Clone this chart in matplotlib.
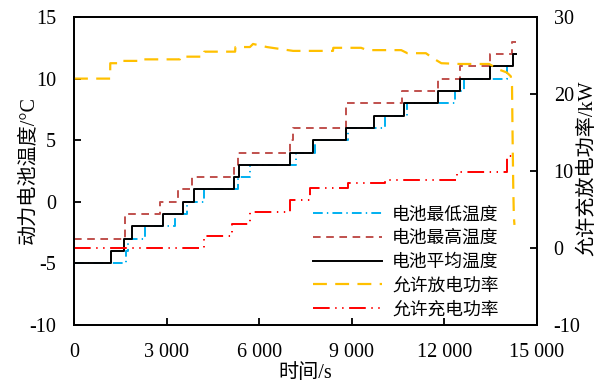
import matplotlib
matplotlib.use('Agg')
from matplotlib import pyplot as plt
from matplotlib.ticker import FuncFormatter, MultipleLocator

plt.rcParams['font.family'] = ['Liberation Serif', 'Noto Sans CJK SC']
plt.rcParams['axes.unicode_minus'] = False
plt.rcParams['lines.scale_dashes'] = False

# 电池温度 (°C)，阶跃变化
t_min = [0, 1700, 1760, 2300, 3270, 3650, 4200, 5300, 5700, 7200, 7800,
         8890, 10080, 10800, 12340, 12650, 14020, 14120]
temp_min = [-5, -4, -3, -2, -1, 0, 1, 2, 3, 4, 5, 6, 7, 8, 9, 10, 11, 11]

t_max = [0, 1640, 2790, 3380, 3820, 5180, 5300, 7000, 7100, 8800, 10620,
         11790, 12500, 13480, 14200, 14330]
temp_max = [-3, -1, 0, 1, 2, 3, 4, 5, 6, 8, 9, 10, 11, 12, 13, 13]

t_avg = [0, 1190, 1620, 1870, 2890, 3520, 3900, 5180, 5360, 7000, 7730,
         8800, 9720, 10700, 11790, 12520, 13480, 14210, 14320]
temp_avg = [-5, -4, -3, -2, -1, 0, 1, 2, 3, 4, 5, 6, 7, 8, 9, 10, 11, 12, 12]

# 允许放电功率 (kW)
t_dis = [0, 1170, 1175, 1550, 1560, 2140, 2150, 3430, 3440, 4210, 4220,
         5220, 5230, 5700, 5800, 6250, 7100, 8390, 8400, 9300, 9500, 10600,
         10800, 11400, 11650, 11900, 12500, 13450, 13750, 14020, 14150,
         14190, 14210, 14230, 14250, 14270]
p_dis = [22, 22, 24, 24, 24.3, 24.3, 24.5, 24.5, 24.85, 24.85, 25.5,
         25.5, 26.1, 26.1, 26.5, 26.1, 25.6, 25.6, 26.0, 26.0, 25.7, 25.7,
         25.3, 25.3, 24.6, 24.0, 23.9, 23.9, 23.2, 22.8, 22.3,
         21.0, 14, 8, 4, 3]

# 允许充电功率 (kW)
t_chg = [0, 4210, 5110, 5700, 7000, 7650, 8880, 10080, 12400, 14020, 14230]
p_chg = [0, 1.5, 3.1, 4.7, 6.3, 7.75, 8.4, 8.8, 9.9, 12, 12]

fig = plt.figure(figsize=(6.09, 3.84), dpi=100)
ax1 = fig.add_axes([0.1215, 0.1536, 0.7603, 0.8021])
ax2 = ax1.twinx()

l_min, = ax1.step(t_min, temp_min, where='post', color='#00B0F0', lw=1.4,
                  linestyle=(0, (7, 3, 1, 3)), label='电池最低温度')
l_max, = ax1.step(t_max, temp_max, where='post', color='#C0504D', lw=1.4,
                  linestyle=(0, (5.5, 4)), label='电池最高温度')
l_avg, = ax1.step(t_avg, temp_avg, where='post', color='black', lw=1.4,
                  label='电池平均温度')
l_dis, = ax2.plot(t_dis, p_dis, color='#FFC000', lw=1.6,
                  linestyle=(0, (10, 6)), label='允许放电功率')
l_chg, = ax2.step(t_chg, p_chg, where='post', color='#FF0000', lw=1.4,
                  linestyle=(0, (12, 4, 1, 4, 1, 4)), label='允许充电功率')

ax1.set_xlim(0, 15000)
ax1.set_ylim(-10, 15)
ax2.set_ylim(-10, 30)
ax1.xaxis.set_major_locator(MultipleLocator(3000))
ax1.yaxis.set_major_locator(MultipleLocator(5))
ax2.yaxis.set_major_locator(MultipleLocator(10))
ax1.xaxis.set_major_formatter(FuncFormatter(
    lambda v, p: f'{int(v):,}'.replace(',', ' ')))

for ax in (ax1, ax2):
    for sp in ax.spines.values():
        sp.set_linewidth(1.3)
ax1.tick_params(axis='both', direction='in', length=5, width=1.3,
                labelsize=14.5, pad=13)
ax1.tick_params(axis='x', pad=13)
ax2.tick_params(axis='y', direction='in', length=5, width=1.3,
                labelsize=14.5, pad=12)

ax1.set_xlabel('时间/s', fontsize=14.5)
ax1.set_ylabel('动力电池温度/°C', fontsize=14.5)
ax2.set_ylabel('允许充放电功率/kW', fontsize=14.5)
ax1.xaxis.set_label_coords(0.499, -0.125)
ax1.yaxis.set_label_coords(-0.078, 0.503)
ax2.yaxis.set_label_coords(1.089, 0.51)

handles = [l_min, l_max, l_avg, l_dis, l_chg]
ax1.legend(handles, [h.get_label() for h in handles], loc='upper left',
           bbox_to_anchor=(0.516, 0.385), frameon=False, fontsize=12.8,
           handlelength=3.9, handletextpad=0.55, labelspacing=0.38,
           borderpad=0, borderaxespad=0)

fig.savefig('out.png', dpi=100)
